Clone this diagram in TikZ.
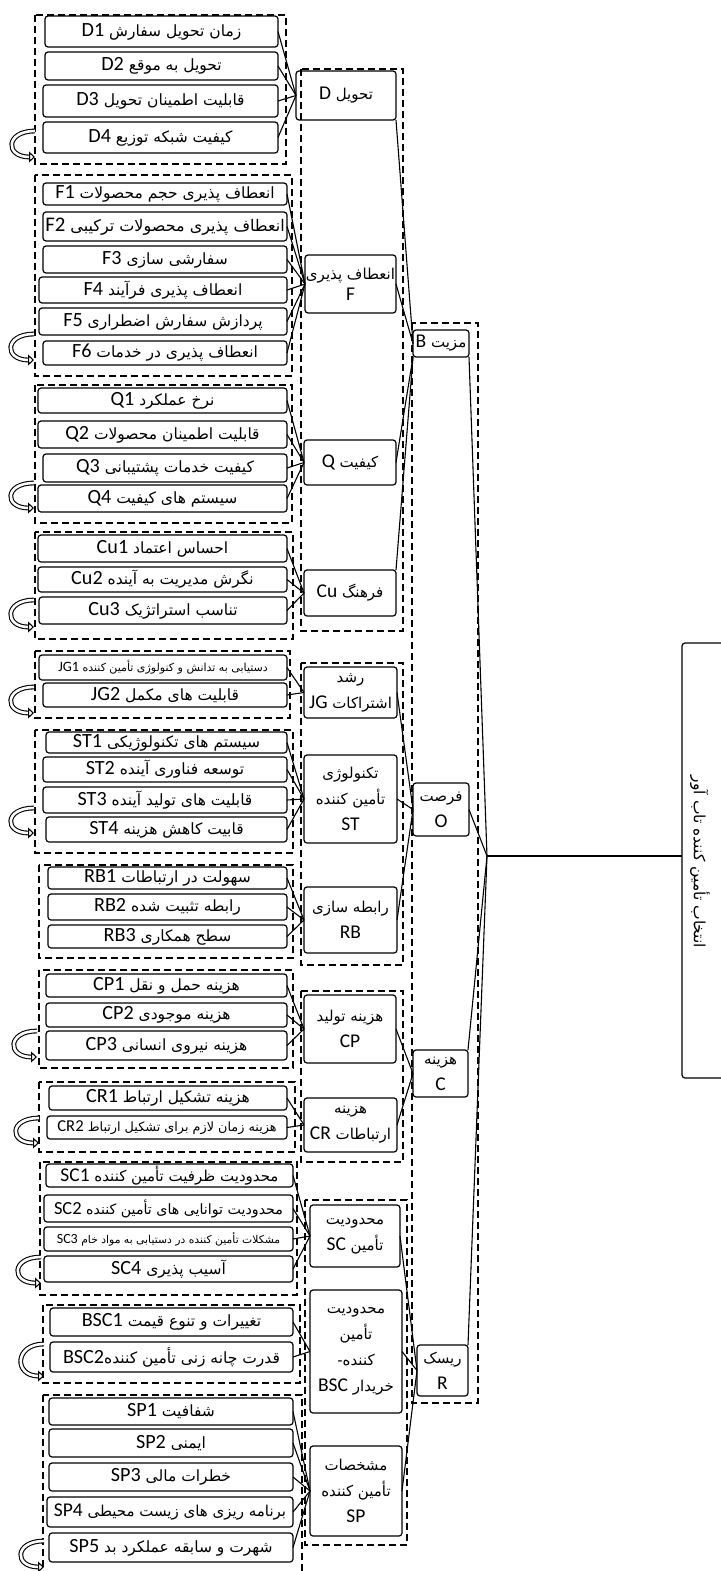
\documentclass[tikz,border=0pt]{standalone}
\usepackage{fontspec}
\usetikzlibrary{arrows.meta}
\TeXXeTstate=1
\newfontfamily\fafont[Script=Arabic]{DejaVu Sans}
\newfontfamily\codefont[Scale=1.3]{Carlito}
\newcommand\faline[1]{\beginR #1\endR}
\newcommand\codetxt[1]{{\codefont #1}}
\newcommand\bx[7][]{\node[itembox,#1,minimum width={(#5)-(#3)},minimum height={(#6)-(#4)}] (#2) at ({((#3)+(#5))/2},{((#4)+(#6))/2}) {#7};}
\newcommand\uturn[3]{\draw[uarrow] (#1,#2) .. controls ({#1-30},#2) and ({#1-30},#3) .. (#1,#3);}
\tikzset{
  itembox/.style={draw, rounded corners=3pt, line width=1.2pt, inner sep=0pt, outer sep=0pt, align=center, font=\fafont\fontsize{15.5}{17}\selectfont},
  fs/.style={font=\fafont\fontsize{#1}{#1}\selectfont},
  mid/.style={font=\fafont\fontsize{15}{26}\selectfont},
  midtight/.style={font=\fafont\fontsize{15}{21}\selectfont},
  grp/.style={draw, line width=1.5pt, dash pattern=on 7pt off 4pt},
  conn/.style={draw, line width=1.1pt},
  uarrow/.style={line width=1.1pt, double=white, double distance=2.6pt, -{Triangle[open,length=6pt,width=11pt]}}
}
\begin{document}
\begin{tikzpicture}[x=1pt,y=-1pt]
\useasboundingbox (0,0) rectangle (720,1571);
\fill[white] (0,0) rectangle (720,1571);
% dashed groups
\draw[grp] (35,15) rectangle (286,164);
\draw[grp] (301,69) rectangle (403,631);
\draw[grp] (35,175) rectangle (292,376);
\draw[grp] (35,385) rectangle (292,523);
\draw[grp] (35,532) rectangle (293,639);
\draw[grp] (35,651) rectangle (290,718);
\draw[grp] (301,663) rectangle (403,965);
\draw[grp] (35,730) rectangle (293,853);
\draw[grp] (39,865) rectangle (293,958);
\draw[grp] (39,970) rectangle (293,1068);
\draw[grp] (301,991) rectangle (403,1162);
\draw[grp] (39,1082) rectangle (295,1152);
\draw[grp] (40,1162) rectangle (297,1295);
\draw[grp] (305,1200) rectangle (407,1545);
\draw[grp] (43,1305) rectangle (300,1383);
\draw[grp] (43,1395) rectangle (302,1590);
\draw[grp] (412,323) rectangle (478,1403);
% D
\bx{D1}{45}{16}{278}{47}{\faline{زمان تحویل سفارش \codetxt{D1}}}
\bx{D2}{45}{52}{278}{80}{\faline{تحویل به موقع \codetxt{D2}}}
\bx{D3}{43}{85}{278}{117}{\faline{قابلیت اطمینان تحویل \codetxt{D3}}}
\bx{D4}{43}{122}{278}{153}{\faline{کیفیت شبکه توزیع \codetxt{D4}}}
\bx[mid]{D}{296}{71}{396}{120}{\faline{تحویل \codetxt{D}}}
% F
\bx{F1}{43}{183}{287}{205}{\faline{انعطاف پذیری حجم محصولات \codetxt{F1}}}
\bx[fs=16]{F2}{43}{212}{287}{241}{\faline{انعطاف پذیری محصولات ترکیبی \codetxt{F2}}}
\bx{F3}{43}{246}{287}{273}{\faline{سفارشی سازی \codetxt{F3}}}
\bx{F4}{39}{277}{287}{303}{\faline{انعطاف پذیری فرآیند \codetxt{F4}}}
\bx{F5}{39}{308}{287}{335}{\faline{پردازش سفارش اضطراری \codetxt{F5}}}
\bx{F6}{43}{341}{287}{365}{\faline{انعطاف پذیری در خدمات \codetxt{F6}}}
\bx[midtight]{F}{305}{255}{396}{313}{\faline{انعطاف پذیری}\\\codetxt{F}}
% Q
\bx{Q1}{38}{388}{287}{413}{\faline{نرخ عملکرد \codetxt{Q1}}}
\bx{Q2}{38}{421}{287}{448}{\faline{قابلیت اطمینان محصولات \codetxt{Q2}}}
\bx{Q3}{43}{454}{287}{482}{\faline{کیفیت خدمات پشتیبانی \codetxt{Q3}}}
\bx{Q4}{38}{485}{287}{512}{\faline{سیستم های کیفیت \codetxt{Q4}}}
\bx[mid]{Q}{304}{440}{396}{485}{\faline{کیفیت \codetxt{Q}}}
% Cu
\bx{Cu1}{38}{535}{287}{562}{\faline{احساس اعتماد \codetxt{Cu1}}}
\bx{Cu2}{38}{567}{287}{592}{\faline{نگرش مدیریت به آینده \codetxt{Cu2}}}
\bx{Cu3}{39}{597}{287}{624}{\faline{تناسب استراتژیک \codetxt{Cu3}}}
\bx[mid]{Cu}{304}{570}{396}{616}{\faline{فرهنگ \codetxt{Cu}}}
% B
\bx[mid]{B}{413}{330}{469}{357}{\faline{مزیت \codetxt{B}}}
% JG
\bx[fs=11]{JG1}{39}{655}{287}{680}{\faline{دستیابی به تدانش و کنولوژی تأمین کننده \codetxt{JG1}}}
\bx{JG2}{43}{683}{287}{707}{\faline{قابلیت های مکمل \codetxt{JG2}}}
\bx[mid]{JG}{304}{667}{397}{718}{\faline{رشد}\\\faline{اشتراکات \codetxt{JG}}}
% ST
\bx{ST1}{46}{732}{287}{753}{\faline{سیستم های تکنولوژیکی \codetxt{ST1}}}
\bx{ST2}{43}{757}{287}{782}{\faline{توسعه فناوری آینده \codetxt{ST2}}}
\bx{ST3}{43}{787}{287}{813}{\faline{قابلیت های تولید آینده \codetxt{ST3}}}
\bx{ST4}{46}{817}{287}{842}{\faline{قابیت کاهش هزینه \codetxt{ST4}}}
\bx[mid]{ST}{304}{755}{397}{843}{\faline{تکنولوژی}\\\faline{تأمین کننده}\\\codetxt{ST}}
% RB
\bx{RB1}{48}{867}{287}{889}{\faline{سهولت در ارتباطات \codetxt{RB1}}}
\bx{RB2}{48}{894}{287}{920}{\faline{رابطه تثبیت شده \codetxt{RB2}}}
\bx{RB3}{48}{925}{287}{948}{\faline{سطح همکاری \codetxt{RB3}}}
\bx[mid]{RB}{304}{887}{397}{953}{\faline{رابطه سازی}\\\codetxt{RB}}
% O
\bx[mid]{O}{413}{783}{469}{836}{\faline{فرصت}\\\codetxt{O}}
% CP
\bx{CP1}{46}{974}{287}{997}{\faline{هزینه حمل و نقل \codetxt{CP1}}}
\bx{CP2}{46}{1003}{287}{1027}{\faline{هزینه موجودی \codetxt{CP2}}}
\bx{CP3}{46}{1031}{287}{1060}{\faline{هزینه نیروی انسانی \codetxt{CP3}}}
\bx[mid]{CP}{304}{995}{396}{1063}{\faline{هزینه تولید}\\\codetxt{CP}}
% CR
\bx{CR1}{49}{1086}{287}{1110}{\faline{هزینه تشکیل ارتباط \codetxt{CR1}}}
\bx[fs=12.8]{CR2}{47}{1116}{287}{1139}{\faline{هزینه زمان لازم برای تشکیل ارتباط \codetxt{CR2}}}
\bx[mid]{CR}{304}{1098}{397}{1152}{\faline{هزینه}\\\faline{ارتباطات \codetxt{CR}}}
% C
\bx[mid]{C}{413}{1050}{468}{1097}{\faline{هزینه}\\\codetxt{C}}
% SC
\bx[fs=15]{SC1}{46}{1164}{293}{1187}{\faline{محدودیت ظرفیت تأمین کننده \codetxt{SC1}}}
\bx[fs=14.2]{SC2}{44}{1195}{293}{1222}{\faline{محدودیت توانایی های تأمین کننده \codetxt{SC2}}}
\bx[fs=10.8]{SC3}{44}{1227}{293}{1251}{\faline{مشکلات تأمین کننده در دستیابی به مواد خام \codetxt{SC3}}}
\bx{SC4}{44}{1256}{293}{1282}{\faline{آسیب پذیری \codetxt{SC4}}}
\bx[mid]{SC}{310}{1205}{400}{1267}{\faline{محدودیت}\\\faline{تأمین \codetxt{SC}}}
% BSC
\bx{BSC1}{50}{1308}{293}{1336}{\faline{تغییرات و تنوع قیمت \codetxt{BSC1}}}
\bx{BSC2}{50}{1342}{293}{1372}{\faline{قدرت چانه زنی تأمین کننده\kern0pt\codetxt{BSC2}}}
\bx[mid]{BSC}{310}{1290}{402}{1413}{\faline{محدودیت}\\\faline{تأمین}\\\faline{کننده-}\\\faline{خریدار \codetxt{BSC}}}
% SP
\bx{SP1}{49}{1398}{293}{1425}{\faline{شفافیت \codetxt{SP1}}}
\bx{SP2}{49}{1429}{293}{1457}{\faline{ایمنی \codetxt{SP2}}}
\bx{SP3}{49}{1463}{293}{1491}{\faline{خطرات مالی \codetxt{SP3}}}
\bx[fs=15]{SP4}{47}{1497}{293}{1527}{\faline{برنامه ریزی های زیست محیطی \codetxt{SP4}}}
\bx{SP5}{49}{1533}{293}{1562}{\faline{شهرت و سابقه عملکرد بد \codetxt{SP5}}}
\bx[mid]{SP}{310}{1446}{402}{1536}{\faline{مشخصات}\\\faline{تأمین کننده}\\\codetxt{SP}}
% R
\bx[mid]{R}{417}{1345}{468}{1396}{\faline{ریسک}\\\codetxt{R}}
% root
\bx[mid]{root}{682}{643}{726}{1078}{}
\node[rotate=-90, font=\fafont\fontsize{15.5}{17}\selectfont] (roottxt) at (700,862) {\faline{انتخاب تأمین کننده تاب آور}};
\coordinate (J) at (487,856);
% connectors
\foreach \i in {D1,D2,D3,D4} \draw[conn] (\i.east) -- (D.west);
\foreach \i in {F1,F2,F3,F4,F5,F6} \draw[conn] (\i.east) -- (F.west);
\foreach \i in {Q1,Q2,Q3,Q4} \draw[conn] (\i.east) -- (Q.west);
\foreach \i in {Cu1,Cu2,Cu3} \draw[conn] (\i.east) -- (Cu.west);
\foreach \i in {JG1,JG2} \draw[conn] (\i.east) -- (JG.west);
\foreach \i in {ST1,ST2,ST3,ST4} \draw[conn] (\i.east) -- (ST.west);
\foreach \i in {RB1,RB2,RB3} \draw[conn] (\i.east) -- (RB.west);
\foreach \i in {CP1,CP2,CP3} \draw[conn] (\i.east) -- (CP.west);
\foreach \i in {CR1,CR2} \draw[conn] (\i.east) -- (CR.west);
\foreach \i in {SC1,SC2,SC3,SC4} \draw[conn] (\i.east) -- (SC.west);
\foreach \i in {BSC1,BSC2} \draw[conn] (\i.east) -- (BSC.west);
\foreach \i in {SP1,SP2,SP3,SP4,SP5} \draw[conn] (\i.east) -- (SP.west);
\draw[conn] (D.south east) -- (B.west);
\draw[conn] (F.east) -- (B.west);
\draw[conn] (Q.east) -- (B.south west);
\draw[conn] (Cu.north east) -- (B.south west);
\foreach \i in {JG,ST,RB} \draw[conn] (\i.east) -- (O.west);
\foreach \i in {CP,CR} \draw[conn] (\i.east) -- (C.west);
\foreach \i in {SC,BSC,SP} \draw[conn] (\i.east) -- (R.west);
\draw[conn] (B.south east) -- (J);
\draw[conn] (O.east) -- (J);
\draw[conn] (C.north east) -- (J);
\draw[conn] (R.north east) -- (J);
\draw[conn] (J) -- (J -| root.west);
% curved return arrows
\uturn{35}{131}{157}
\uturn{34}{334}{360}
\uturn{34}{483}{508}
\uturn{34}{600}{627}
\uturn{34}{687}{713}
\uturn{34}{808}{833}
\uturn{37}{1031}{1057}
\uturn{39}{1118}{1143}
\uturn{41}{1257}{1283}
\uturn{44}{1344}{1376}
\uturn{44}{1541}{1567}
\end{tikzpicture}
\end{document}
